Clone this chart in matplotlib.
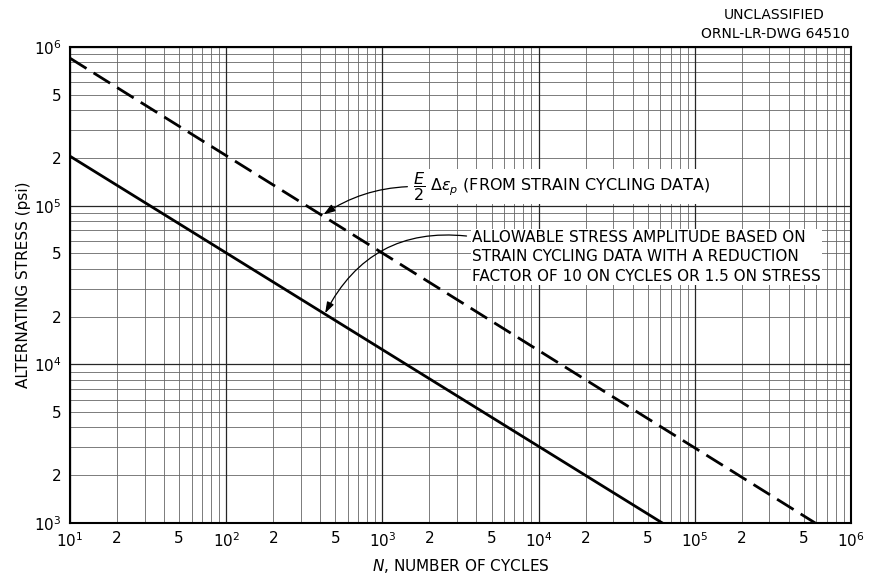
import numpy as np
import matplotlib.pyplot as plt
from matplotlib.ticker import FixedLocator, FixedFormatter, NullFormatter

# strain cycling curve (E/2 * delta eps_p) and design allowable curve
cycles_strain = [10, 5.9e5]
stress_strain = [8.5e5, 1.0e3]
cycles_allow = [10, 6.2e4]
stress_allow = [2.05e5, 1.0e3]

x_ticks = [1e1, 2e1, 5e1, 1e2, 2e2, 5e2, 1e3, 2e3, 5e3, 1e4, 2e4, 5e4, 1e5, 2e5, 5e5, 1e6]
x_labels = [r'$10^1$', '2', '5', r'$10^2$', '2', '5', r'$10^3$', '2', '5',
            r'$10^4$', '2', '5', r'$10^5$', '2', '5', r'$10^6$']
y_ticks = [1e3, 2e3, 5e3, 1e4, 2e4, 5e4, 1e5, 2e5, 5e5, 1e6]
y_labels = [r'$10^3$', '2', '5', r'$10^4$', '2', '5', r'$10^5$', '2', '5', r'$10^6$']

plt.rcParams['font.family'] = 'DejaVu Sans'
plt.rcParams['mathtext.fontset'] = 'dejavusans'

fig = plt.figure(figsize=(8.71, 5.78), dpi=100)
ax = fig.add_axes([70 / 871, 55 / 578, 781 / 871, 476 / 578])
ax.set_xscale('log')
ax.set_yscale('log')
ax.set_xlim(1e1, 1e6)
ax.set_ylim(1e3, 1e6)

# graph paper grid
minor = np.array([2, 3, 4, 5, 6, 7, 8, 9])
xm = np.concatenate([minor * 10.0 ** k for k in range(1, 6)])
ym = np.concatenate([minor * 10.0 ** k for k in range(3, 6)])
for v in xm:
    ax.axvline(v, color='0.4', lw=0.6, zorder=1)
for v in ym:
    ax.axhline(v, color='0.4', lw=0.6, zorder=1)
for k in range(1, 7):
    ax.axvline(10.0 ** k, color='0.15', lw=0.9, zorder=1)
for k in range(3, 7):
    ax.axhline(10.0 ** k, color='0.15', lw=0.9, zorder=1)

ax.plot(cycles_strain, stress_strain, color='black', lw=2.0,
        linestyle=(0, (7, 3)), zorder=3)
ax.plot(cycles_allow, stress_allow, color='black', lw=2.0, zorder=3)

ax.xaxis.set_major_locator(FixedLocator(x_ticks))
ax.xaxis.set_major_formatter(FixedFormatter(x_labels))
ax.xaxis.set_minor_formatter(NullFormatter())
ax.yaxis.set_major_locator(FixedLocator(y_ticks))
ax.yaxis.set_major_formatter(FixedFormatter(y_labels))
ax.yaxis.set_minor_formatter(NullFormatter())
ax.tick_params(which='both', length=0, labelsize=11, pad=6)
for s in ax.spines.values():
    s.set_linewidth(1.5)

ax.set_xlabel(r'$N$, NUMBER OF CYCLES', fontsize=11, labelpad=5)
ax.set_ylabel('ALTERNATING STRESS (psi)', fontsize=11, labelpad=2)

box = dict(facecolor='white', edgecolor='none', pad=1)
head = '-|>,head_length=0.6,head_width=0.2'
ax.annotate(r'$\dfrac{E}{2}\ \Delta\epsilon_p$ (FROM STRAIN CYCLING DATA)',
            xy=(4.2e2, 8.8e4), xytext=(1.57e3, 1.32e5), fontsize=11.5,
            va='center', ha='left', bbox=box, zorder=5,
            arrowprops=dict(arrowstyle=head, color='black', lw=0.9,
                            connectionstyle='arc3,rad=0.15',
                            relpos=(0, 0.5), shrinkA=3, shrinkB=0))
ax.annotate('ALLOWABLE STRESS AMPLITUDE BASED ON\n'
            'STRAIN CYCLING DATA WITH A REDUCTION\n'
            'FACTOR OF 10 ON CYCLES OR 1.5 ON STRESS',
            xy=(4.3e2, 2.1e4), xytext=(3.75e3, 4.75e4), fontsize=11,
            va='center', ha='left', linespacing=1.35, bbox=box, zorder=5,
            arrowprops=dict(arrowstyle=head, color='black', lw=0.9,
                            connectionstyle='arc3,rad=0.35',
                            relpos=(0, 0.88), shrinkA=3, shrinkB=0))

fig.text(0.889, 0.974, 'UNCLASSIFIED', fontsize=10, ha='center', va='center')
fig.text(0.976, 0.942, 'ORNL-LR-DWG 64510', fontsize=10, ha='right', va='center')

fig.savefig('out.png', dpi=100)
